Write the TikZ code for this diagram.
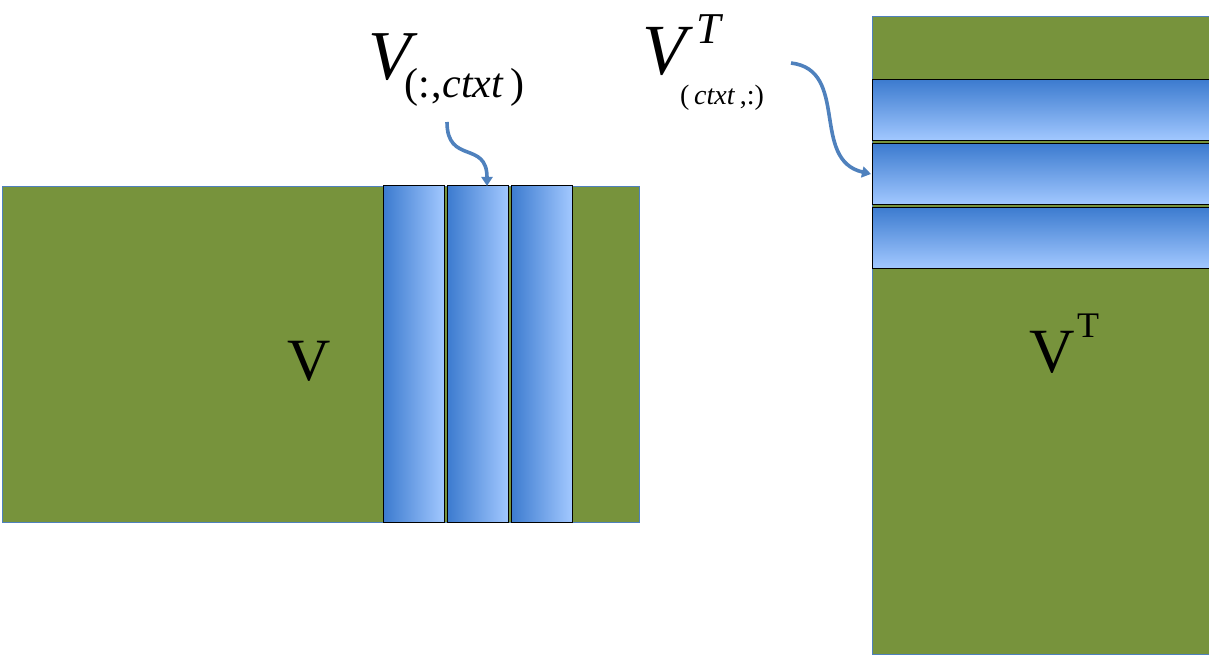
\documentclass[tikz,border=0pt]{standalone}
\usepackage{fontspec}
\setmainfont{Liberation Serif}
\usetikzlibrary{arrows.meta}
\definecolor{mgreen}{HTML}{77933C}
\definecolor{mline}{HTML}{4F81BD}
\definecolor{bdark}{HTML}{3C7BCF}
\definecolor{blight}{HTML}{A2C8FF}
\begin{document}
\begin{tikzpicture}[x=1pt,y=-1pt,
  matrixbox/.style={draw=mline,line width=0.8pt,fill=mgreen,inner sep=0pt,minimum width=#1},
  colbox/.style={draw=black,line width=1pt,shading=axis,left color=bdark,right color=blight,inner sep=0pt,minimum width=61pt,minimum height=336pt},
  rowbox/.style={draw=black,line width=1pt,shading=axis,top color=bdark,bottom color=blight,inner sep=0pt,minimum width=337pt,minimum height=61pt},
  pointer/.style={draw=mline,line width=3.6pt,-{Triangle[length=9pt,width=11pt]}},
  lbl/.style={inner sep=0pt,anchor=base west}]
\useasboundingbox (0,0) rectangle (1209,655);
% left matrix V
\node[matrixbox=637pt,minimum height=336pt] (V) at (320.5,354) {};
\node[colbox] (c1) at (414,354) {};
\node[colbox] (c2) at (478,354) {};
\node[colbox] (c3) at (541.5,354) {};
% right matrix V^T
\node[matrixbox=337pt,minimum height=638pt] (VT) at (1040.5,335) {};
\node[rowbox] (r1) at (1040.5,110) {};
\node[rowbox] (r2) at (1040.5,174) {};
\node[rowbox] (r3) at (1040.5,237.5) {};
% labels
\node[lbl,font=\fontsize{60}{60}\selectfont] (lV) at (287,380) {V};
\node[lbl,font=\fontsize{63}{63}\selectfont] (lVT) at (1029,372) {V};
\node[lbl,font=\fontsize{36}{36}\selectfont] (lVTs) at (1077,337) {T};
\node[lbl,font=\fontsize{70}{70}\selectfont\itshape] (lVc) at (368,80) {V};
\node[lbl,font=\fontsize{42}{42}\selectfont] (lVcs) at (404,98) {(:\kern2pt,\textit{ctxt}\,)};
\node[lbl,font=\fontsize{72}{72}\selectfont\itshape] (lVr) at (642,75) {V};
\node[lbl,font=\fontsize{44}{44}\selectfont\itshape] (lVrT) at (696,44) {T};
\node[lbl,font=\fontsize{28}{28}\selectfont] (lVrs) at (680,105) {(\,\textit{ctxt}\,,:)};
% arrows
\coordinate (a1s) at (447,122);
\coordinate (a1e) at (487,186);
\coordinate (a2s) at (791,63);
\coordinate (a2e) at (871,174);
\draw[pointer] (a1s) .. controls (447,165) and (487,140) .. (a1e);
\draw[pointer] (a2s) .. controls (850,70) and (810,160) .. (a2e);
\end{tikzpicture}
\end{document}
